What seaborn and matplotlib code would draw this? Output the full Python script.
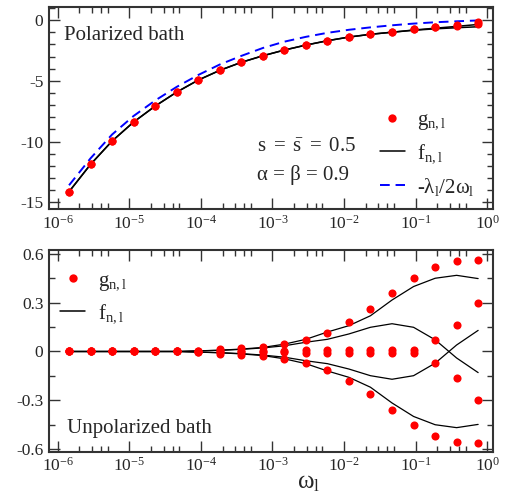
import numpy as np
import pandas as pd
import matplotlib
matplotlib.use('agg')
import matplotlib.pyplot as plt
import seaborn as sns
from matplotlib.ticker import FixedLocator, MultipleLocator, FuncFormatter, NullFormatter, LogFormatterSciNotation
from matplotlib.lines import Line2D

# energy scale omega_l
omega = [1.43e-6, 2.86e-6, 5.72e-6, 1.14e-5, 2.29e-5, 4.58e-5, 9.16e-5, 1.83e-4,
         3.66e-4, 7.32e-4, 1.46e-3, 2.93e-3, 5.86e-3, 1.17e-2, 2.34e-2, 4.69e-2,
         9.38e-2, 0.188, 0.375, 0.75]
x_ticks = [1e-6, 1e-5, 1e-4, 1e-3, 1e-2, 1e-1, 1e0]

# polarized bath
g_pol_a = [-14.13, -11.88, -9.96, -8.40, -7.08, -5.93, -4.94, -4.14, -3.48, -2.94,
           -2.47, -2.06, -1.70, -1.40, -1.15, -0.96, -0.77, -0.60, -0.45, -0.36]
g_pol_b = [-14.13, -11.88, -9.96, -8.40, -7.08, -5.93, -4.94, -4.14, -3.48, -2.94,
           -2.47, -2.06, -1.70, -1.40, -1.15, -0.96, -0.77, -0.60, -0.42, -0.17]
f_pol_a = [-14.13, -11.88, -9.96, -8.40, -7.08, -5.93, -4.94, -4.14, -3.48, -2.94,
           -2.47, -2.06, -1.70, -1.40, -1.17, -1.00, -0.84, -0.72, -0.63, -0.55]
f_pol_b = [-14.13, -11.88, -9.96, -8.40, -7.08, -5.93, -4.94, -4.14, -3.48, -2.94,
           -2.47, -2.06, -1.70, -1.40, -1.17, -1.00, -0.82, -0.67, -0.52, -0.36]
lam_half = [-13.6, -11.38, -9.42, -7.9, -6.62, -5.5, -4.52, -3.66, -2.95, -2.3,
            -1.78, -1.38, -1.05, -0.8, -0.6, -0.43, -0.29, -0.18, -0.1, -0.03]

# unpolarized bath
g_out_up = [0, 0, 0, 0, 0, 0, 0.006, 0.014, 0.02, 0.03, 0.047, 0.072, 0.115, 0.18,
            0.26, 0.36, 0.45, 0.52, 0.555, 0.565]
g_out_dn = [0, 0, 0, 0, 0, 0, -0.006, -0.014, -0.02, -0.03, -0.047, -0.072, -0.115, -0.18,
            -0.26, -0.36, -0.45, -0.52, -0.555, -0.565]
g_in_up = [0, 0, 0, 0, 0, 0, 0.001, 0.002, 0.003, 0.004, 0.006, 0.01, 0.012, 0.012,
           0.012, 0.012, 0.012, 0.073, 0.165, 0.298]
g_in_dn = [0, 0, 0, 0, 0, 0, -0.001, -0.002, -0.003, -0.004, -0.006, -0.01, -0.012, -0.012,
           -0.012, -0.012, -0.012, -0.073, -0.165, -0.298]
f_out_up = [0, 0, 0, 0, 0, 0, 0.004, 0.008, 0.015, 0.025, 0.045, 0.075, 0.12, 0.159,
            0.22, 0.317, 0.40, 0.451, 0.469, 0.449]
f_out_dn = [0, 0, 0, 0, 0, 0, -0.004, -0.008, -0.015, -0.025, -0.045, -0.075, -0.12, -0.159,
            -0.22, -0.317, -0.40, -0.451, -0.469, -0.449]
f_in_up = [0, 0, 0, 0, 0, 0, 0.004, 0.007, 0.013, 0.022, 0.035, 0.057, 0.075, 0.108,
           0.149, 0.171, 0.149, 0.072, -0.04, -0.13]
f_in_dn = [0, 0, 0, 0, 0, 0, -0.004, -0.007, -0.013, -0.022, -0.035, -0.057, -0.075, -0.108,
           -0.149, -0.171, -0.149, -0.072, 0.04, 0.13]


def long_frame(series):
    parts = []
    for name, vals in series.items():
        parts.append(pd.DataFrame({'omega': omega, 'val': vals, 'series': name}))
    return pd.concat(parts, ignore_index=True)


sns.set_style('ticks')
plt.rcParams['font.family'] = ['Liberation Serif', 'DejaVu Serif']
plt.rcParams['mathtext.fontset'] = 'custom'
plt.rcParams['mathtext.rm'] = 'Liberation Serif'
plt.rcParams['mathtext.it'] = 'Liberation Serif:italic'
plt.rcParams['mathtext.bf'] = 'Liberation Serif:bold'
plt.rcParams['axes.unicode_minus'] = False

fig = plt.figure(figsize=(5.13, 4.98), dpi=100)
ax1 = fig.add_axes([0.0955, 0.5797, 0.8655, 0.4056])
ax2 = fig.add_axes([0.0955, 0.0930, 0.8655, 0.4050])

red = '#ff0000'
dot_size = 34

# --- top panel: polarized bath
g_pol = long_frame({'a': g_pol_a, 'b': g_pol_b})
f_pol = long_frame({'a': f_pol_a, 'b': f_pol_b})
lam = long_frame({'lam': lam_half})

sns.lineplot(data=f_pol, x='omega', y='val', units='series', estimator=None,
             color='black', lw=1.1, ax=ax1, legend=False)
sns.lineplot(data=lam, x='omega', y='val', estimator=None, color='#0000ff',
             lw=1.4, ax=ax1, legend=False, dashes=False)
ax1.lines[-1].set_dashes([5, 3])
sns.scatterplot(data=g_pol, x='omega', y='val', color=red, s=dot_size,
                linewidth=0, ax=ax1, legend=False, zorder=3)

# --- bottom panel: unpolarized bath
g_unp = long_frame({'ou': g_out_up, 'od': g_out_dn, 'iu': g_in_up, 'id': g_in_dn})
f_unp = long_frame({'ou': f_out_up, 'od': f_out_dn, 'iu': f_in_up, 'id': f_in_dn})

sns.lineplot(data=f_unp, x='omega', y='val', units='series', estimator=None,
             color='black', lw=0.9, ax=ax2, legend=False)
sns.scatterplot(data=g_unp, x='omega', y='val', color=red, s=dot_size,
                linewidth=0, ax=ax2, legend=False, zorder=3)

minor_x = [m * d for d in x_ticks[:-1] for m in (2, 3, 4, 5)]
fmt_y = FuncFormatter(lambda v, p: '%g' % round(v, 3))
for ax in (ax1, ax2):
    ax.set_xscale('log')
    ax.set_xlim(7.5e-7, 1.21)
    ax.xaxis.set_major_locator(FixedLocator(x_ticks))
    ax.xaxis.set_major_formatter(LogFormatterSciNotation())
    ax.xaxis.set_minor_locator(FixedLocator(minor_x))
    ax.xaxis.set_minor_formatter(NullFormatter())
    ax.yaxis.set_major_formatter(fmt_y)
    ax.tick_params(which='both', direction='in', top=True, right=True,
                   color='#333333', labelsize=12.5, width=1.0)
    ax.tick_params(which='major', length=8, pad=4)
    ax.tick_params(which='minor', length=4)
    ax.xaxis.label.set_visible(False)
    ax.yaxis.label.set_visible(False)
    for sp in ax.spines.values():
        sp.set_linewidth(1.5)
        sp.set_color('#333333')

ax1.set_ylim(-15.58, 1.05)
ax1.yaxis.set_major_locator(FixedLocator([-15, -10, -5, 0]))
ax1.yaxis.set_minor_locator(MultipleLocator(1))
ax2.set_ylim(-0.617, 0.625)
ax2.yaxis.set_major_locator(FixedLocator([-0.6, -0.3, 0, 0.3, 0.6]))
ax2.yaxis.set_minor_locator(MultipleLocator(0.15))

# annotations
ax1.text(0.034, 0.838, 'Polarized bath', transform=ax1.transAxes, fontsize=15,
         va='baseline')
ax1.text(0.468, 0.289, r'$\mathrm{s}\ =\ \bar{\mathrm{s}}\ =\ 0.5$', transform=ax1.transAxes,
         fontsize=15, va='baseline')
ax1.text(0.468, 0.145, 'α = β = 0.9', transform=ax1.transAxes, fontsize=15,
         va='baseline')
ax2.text(0.04, 0.091, 'Unpolarized bath', transform=ax2.transAxes, fontsize=15,
         va='baseline')
fig.text(297 / 513, 0.02, r'ω$_{\mathrm{l}}$', fontsize=18, va='baseline')

lab_g = r'g$_{\mathrm{n,l}}$'
lab_f = r'f$_{\mathrm{n,l}}$'
lab_l = r'-λ$_{\mathrm{l}}$/2ω$_{\mathrm{l}}$'
h_g = Line2D([], [], ls='none', marker='o', color=red, markersize=6, markeredgewidth=0)
h_f = Line2D([], [], color='black', lw=1.1)
h_l = Line2D([], [], color='#0000ff', lw=1.4, dashes=[5, 3])

ax1.legend([h_g, h_f, h_l], [lab_g, lab_f, lab_l], loc='upper left',
           bbox_to_anchor=(0.745, 0.49), frameon=False, fontsize=15,
           handlelength=1.2, handletextpad=0.6, labelspacing=0.5, borderpad=0,
           borderaxespad=0)
ax2.legend([h_g, h_f], [lab_g, lab_f], loc='upper left',
           bbox_to_anchor=(0.025, 0.895), frameon=False, fontsize=15,
           handlelength=1.2, handletextpad=0.6, labelspacing=0.45, borderpad=0,
           borderaxespad=0)

fig.savefig('out.png', dpi=100)
